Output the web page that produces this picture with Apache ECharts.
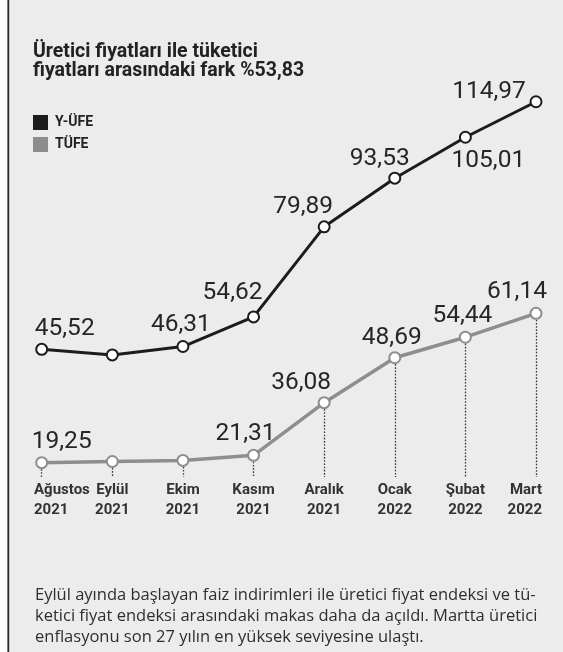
<!DOCTYPE html>
<html>
<head>
<meta charset="utf-8">
<script src="https://cdn.jsdelivr.net/npm/echarts@6/dist/echarts.min.js"></script>
<style>
html,body{margin:0;padding:0;background:#fff;}
#main{width:563px;height:652px;}
</style>
</head>
<body>
<div id="main"></div>
<script>
// ---- data ----
const months = ['Ağustos', 'Eylül', 'Ekim', 'Kasım', 'Aralık', 'Ocak', 'Şubat', 'Mart'];
const years = ['2021', '2021', '2021', '2021', '2021', '2022', '2022', '2022'];
const yufe = [45.52, 43.96, 46.31, 54.62, 79.89, 93.53, 105.01, 114.97];
const tufe = [19.25, 19.58, 19.89, 21.31, 36.08, 48.69, 54.44, 61.14];
const yufeLabelShown = [true, false, true, true, true, true, true, true];
const tufeLabelShown = [true, false, false, true, true, true, true, true];
const seriesNames = ['Y-ÜFE', 'TÜFE'];
const titleText = 'Üretici fiyatları ile tüketici\nfiyatları arasındaki fark %53,83';
const noteText = 'Eylül ayında başlayan faiz indirimleri ile üretici fiyat endeksi ve tü-\nketici fiyat endeksi arasındaki makas daha da açıldı. Martta üretici\nenflasyonu son 27 yılın en yüksek seviyesine ulaştı.';

// ---- layout / style (not data) ----
const yufeLabelOffset = [[23, -20], [0, 0], [-2, -22], [-21, -24], [-21, -20], [-15, -19], [23, 24], [-47, -10]];
const tufeLabelOffset = [[20, -21], [0, 0], [0, 0], [-8, -21], [-23, -20], [-3, -20], [-3, -21], [-19, -21]];
const axis0 = [9.71, 126.68];
const axis1 = [15.23, 132.20];

const fmt = v => v.toFixed(2).replace('.', ',');
const labelFont = {fontFamily: 'Roboto', fontSize: 24.5, fontWeight: 'normal', color: '#262626'};
const axisFont = {fontFamily: 'Roboto', fontSize: 15, fontWeight: 'bold', color: '#333', lineHeight: 20};

const chart = echarts.init(document.getElementById('main'), null, {renderer: 'canvas'});

const xData = months.map((m, i) => m + '\n' + years[i]);

chart.setOption({
  animation: false,
  backgroundColor: '#ececec',
  title: {
    text: titleText,
    left: 33, top: 43, padding: 0,
    textStyle: {fontFamily: 'Roboto', fontSize: 19.5, fontWeight: 'bold', lineHeight: 18.5, color: '#222'}
  },
  legend: {
    orient: 'vertical', left: 33, top: 115, padding: 0,
    itemWidth: 15, itemHeight: 15, itemGap: 7, icon: 'rect',
    textStyle: {fontFamily: 'Roboto', fontSize: 14, fontWeight: 'bold', color: '#222', padding: [0, 0, 0, 2]},
    data: [
      {name: seriesNames[0], itemStyle: {color: '#1e1b1c', borderWidth: 0}},
      {name: seriesNames[1], itemStyle: {color: '#8c8c8c', borderWidth: 0}}
    ]
  },
  grid: {left: 41.7, right: 27, top: 60, bottom: 175, containLabel: false},
  xAxis: {
    type: 'category', boundaryGap: false, data: xData,
    axisLine: {show: false}, axisTick: {show: false}, splitLine: {show: false},
    axisLabel: {
      interval: 0, margin: 3, ...axisFont,
      formatter: function (val, idx) {
        const p = val.split('\n');
        if (idx === 0) return '{l|' + p[0] + '}\n{l|' + p[1] + '}';
        if (idx === months.length - 1) return '{r|' + p[0] + '}\n{r|' + p[1] + '}';
        return p[0] + '\n' + p[1];
      },
      rich: {
        l: {width: 15.4, align: 'left', ...axisFont},
        r: {width: 12, align: 'right', ...axisFont}
      }
    }
  },
  yAxis: [
    {type: 'value', show: false, min: axis0[0], max: axis0[1], splitLine: {show: false}},
    {type: 'value', show: false, min: axis1[0], max: axis1[1], splitLine: {show: false}}
  ],
  graphic: [
    {type: 'rect', shape: {x: 0, y: 0, width: 7.5, height: 652}, style: {fill: '#ffffff'}, z: 100},
    {type: 'line', shape: {x1: 8.3, y1: 0, x2: 8.3, y2: 652}, style: {stroke: '#2a2a2a', lineWidth: 1.8}, z: 100},
    {type: 'text', left: 35, top: 585, z: 100,
     style: {text: noteText, font: '16.5px "Open Sans", sans-serif', fill: '#2e2e2e', lineHeight: 20.8}}
  ],
  series: [
    {
      name: 'guides', type: 'line', yAxisIndex: 1, data: tufe, symbol: 'none', silent: true, z: 1,
      lineStyle: {opacity: 0},
      markLine: {
        symbol: 'none', silent: true, animation: false, z: 1,
        label: {show: false},
        lineStyle: {type: [1.6, 1.6], color: '#3a3a3a', width: 1.3},
        data: tufe.map((v, i) => [{coord: [i, v]}, {coord: [i, axis1[0]]}])
      }
    },
    {
      name: seriesNames[1], type: 'line', yAxisIndex: 1, z: 3,
      symbol: 'circle', symbolSize: 11,
      lineStyle: {color: '#8e8e8e', width: 3.5},
      itemStyle: {color: '#ffffff', borderColor: '#8e8e8e', borderWidth: 2},
      data: tufe.map((v, i) => ({
        value: v,
        label: {show: tufeLabelShown[i], position: 'inside', offset: tufeLabelOffset[i],
                formatter: () => fmt(v), ...labelFont}
      }))
    },
    {
      name: seriesNames[0], type: 'line', yAxisIndex: 0, z: 4,
      symbol: 'circle', symbolSize: 11,
      lineStyle: {color: '#1c1c1c', width: 3},
      itemStyle: {color: '#ffffff', borderColor: '#1c1c1c', borderWidth: 2},
      data: yufe.map((v, i) => ({
        value: v,
        label: {show: yufeLabelShown[i], position: 'inside', offset: yufeLabelOffset[i],
                formatter: () => fmt(v), ...labelFont}
      }))
    }
  ]
});
</script>
</body>
</html>
